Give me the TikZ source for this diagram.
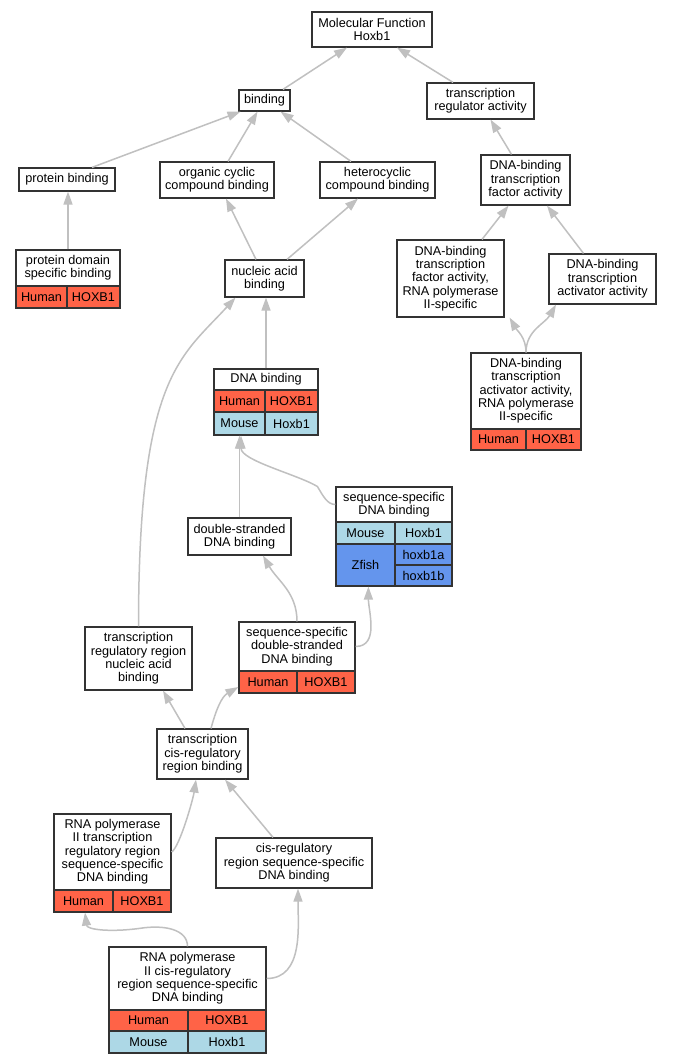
\documentclass[tikz,border=0pt]{standalone}
\usepackage{fontspec}
\setmainfont{Liberation Sans}
\usetikzlibrary{arrows.meta}
\definecolor{tomatoc}{HTML}{FF6347}
\definecolor{lblue}{HTML}{ADD8E6}
\definecolor{cflower}{HTML}{6495ED}
\definecolor{edgec}{HTML}{C0C0C0}
\definecolor{bord}{HTML}{333333}
\newcommand\nodefont{\fontsize{12.7}{13.3}\selectfont}
\newcommand\gbox[7]{\node[box,#6,minimum width=#4pt,minimum height=#5pt] (#1) at (#2,#3) {#7};}
\tikzset{
  box/.style={draw=bord, line width=1.2pt, inner sep=0pt, align=center, font=\nodefont, fill=white},
  hum/.style={fill=tomatoc},
  mou/.style={fill=lblue},
  zf/.style={fill=cflower},
  plain/.style={},
  edge/.style={draw=edgec, line width=1.5pt, -{Triangle[length=13pt,width=9pt,fill=edgec]}},
}
\begin{document}
\begin{tikzpicture}[x=1pt,y=-1pt]
\useasboundingbox (0,0) rectangle (672,1064);
\fill[white] (0,0) rectangle (672,1064);
% nodes
\gbox{mf}{372}{29.5}{120}{35}{plain}{Molecular Function\\Hoxb1}
\gbox{bind}{264.5}{100.5}{51}{21}{plain}{binding}
\gbox{tra}{480.5}{101}{107}{36}{plain}{transcription\\regulator activity}
\gbox{pb}{67}{179.5}{96}{23}{plain}{protein binding}
\gbox{occ}{217}{180}{114}{36}{plain}{organic cyclic\\compound binding}
\gbox{hcc}{377.5}{180}{115}{36}{plain}{heterocyclic\\compound binding}
\gbox{dtf}{525.5}{180}{89}{50}{plain}{DNA-binding\\transcription\\factor activity}
\gbox{pds}{68}{268}{104}{36}{plain}{protein domain\\specific binding}
\gbox{pdsH}{41.5}{297}{51}{22}{hum}{Human}
\gbox{pdsG}{93.5}{297}{53}{22}{hum}{HOXB1}
\gbox{nab}{264.5}{278.5}{79}{37}{plain}{nucleic acid\\binding}
\gbox{dtfii}{450.5}{278.5}{107}{77}{plain}{DNA-binding\\transcription\\factor activity,\\RNA polymerase\\II-specific}
\gbox{dta}{602.5}{279}{107}{50}{plain}{DNA-binding\\transcription\\activator activity}
\gbox{dnab}{266}{379.5}{104}{21}{plain}{DNA binding}
\gbox{dnabH}{239.5}{401}{51}{22}{hum}{Human}
\gbox{dnabG}{291.5}{401}{53}{22}{hum}{HOXB1}
\gbox{dnabM}{239.5}{423.5}{51}{23}{mou}{Mouse}
\gbox{dnabMG}{291.5}{423.5}{53}{23}{mou}{Hoxb1}
\gbox{dtaii}{526}{391}{110}{76}{plain}{DNA-binding\\transcription\\activator activity,\\RNA polymerase\\II-specific}
\gbox{dtaiiH}{498.5}{439.5}{55}{21}{hum}{Human}
\gbox{dtaiiG}{553.5}{439.5}{55}{21}{hum}{HOXB1}
\gbox{ssdb}{394}{504.5}{116}{35}{plain}{sequence-specific\\DNA binding}
\gbox{ssdbM}{365.5}{533}{59}{22}{mou}{Mouse}
\gbox{ssdbMG}{423.5}{533}{57}{22}{mou}{Hoxb1}
\gbox{ssdbZ}{365.5}{565}{59}{42}{zf}{Zfish}
\gbox{ssdbZa}{423.5}{554.5}{57}{21}{zf}{hoxb1a}
\gbox{ssdbZb}{423.5}{575.5}{57}{21}{zf}{hoxb1b}
\gbox{dsdb}{239.5}{536.5}{103}{37}{plain}{double-stranded\\DNA binding}
\gbox{trr}{138.5}{658.5}{107}{63}{plain}{transcription\\regulatory region\\nucleic acid\\binding}
\gbox{ssds}{297}{646.5}{116}{49}{plain}{sequence-specific\\double-stranded\\DNA binding}
\gbox{ssdsH}{268}{682}{58}{22}{hum}{Human}
\gbox{ssdsG}{326}{682}{58}{22}{hum}{HOXB1}
\gbox{tcis}{202.5}{754}{91}{50}{plain}{transcription\\cis-regulatory\\region binding}
\gbox{rtrr}{112.5}{852}{117}{76}{plain}{RNA polymerase\\II transcription\\regulatory region\\sequence-specific\\DNA binding}
\gbox{rtrrH}{83.5}{901}{59}{22}{hum}{Human}
\gbox{rtrrG}{142}{901}{58}{22}{hum}{HOXB1}
\gbox{crss}{294}{863}{156}{50}{plain}{cis-regulatory\\region sequence-specific\\DNA binding}
\gbox{rcis}{187.5}{978.5}{157}{63}{plain}{RNA polymerase\\II cis-regulatory\\region sequence-specific\\DNA binding}
\gbox{rcisH}{148.5}{1020.5}{79}{21}{hum}{Human}
\gbox{rcisG}{227}{1020.5}{78}{21}{hum}{HOXB1}
\gbox{rcisM}{148.5}{1042}{79}{22}{mou}{Mouse}
\gbox{rcisMG}{227}{1042}{78}{22}{mou}{Hoxb1}
% edges
\draw[edge] ([xshift=18.5]bind.north) -- ([xshift=-25]mf.south);
\draw[edge] ([xshift=-27.5]tra.north) -- ([xshift=25]mf.south);
\draw[edge] ([xshift=25]pb.north) -- ([xshift=-24]bind.south);
\draw[edge] ([xshift=11]occ.north) -- ([xshift=-7]bind.south);
\draw[edge] ([xshift=-26.5]hcc.north) -- ([xshift=16]bind.south);
\draw[edge] ([xshift=-14]dtf.north) -- ([xshift=10]tra.south);
\draw[edge] (pds.north) -- (pds.north |- pb.south);
\draw[edge] ([xshift=-8.5]nab.north) -- ([xshift=9]occ.south);
\draw[edge] ([xshift=22.5]nab.north) -- ([xshift=-19.5]hcc.south);
\draw[edge] ([xshift=31.5]dtfii.north) -- ([xshift=-17]dtf.south);
\draw[edge] ([xshift=-19]dta.north) -- ([xshift=21.5]dtf.south);
\draw[edge] (dtaii.north) to[out=90,in=-60] ([xshift=5]dtfii.south east);
\draw[edge] (dtaii.north) to[out=90,in=-120] ([xshift=-46.5]dta.south);
\draw[edge] (dnab.north) -- (dnab.north |- nab.south);
\draw[edge] (ssdb.west) .. controls +(-8,0) and +(6,10) .. ++(-18,-18) .. controls +(-20,-12) and +(0,25) .. ([xshift=1.5]dnabM.south);
\draw[edge] (dsdb.north) -- (dsdb.north |- dnabM.south);
\draw[edge] (trr.north) .. controls +(0,-250) and +(-55,60) .. ([xshift=-29]nab.south);
\draw[edge] (ssds.east) to[out=0,in=-90] ([xshift=-26]ssdbZb.south west);
\draw[edge] (ssds.north) to[out=90,in=-60] ([xshift=23.5]dsdb.south);
\draw[edge] ([xshift=-17.5]tcis.north) -- ([xshift=24.5]trr.south);
\draw[edge] ([xshift=8.5]tcis.north) to[out=75,in=-150] ([yshift=-5]ssdsH.west);
\draw[edge] (rtrr.east) .. controls +(8,-5) and +(-3,20) .. ([xshift=-6.5]tcis.south);
\draw[edge] ([xshift=-21]crss.north) -- ([xshift=22.5]tcis.south);
\draw[edge] (rcis.north) .. controls +(0,-17) and +(25,-4) .. ++(-48,-18) .. controls +(-30,4) and +(2,17) .. ([xshift=1.5]rtrrH.south);
\draw[edge] (rcis.east) to[out=0,in=-90] ([xshift=4]crss.south);
\end{tikzpicture}
\end{document}
